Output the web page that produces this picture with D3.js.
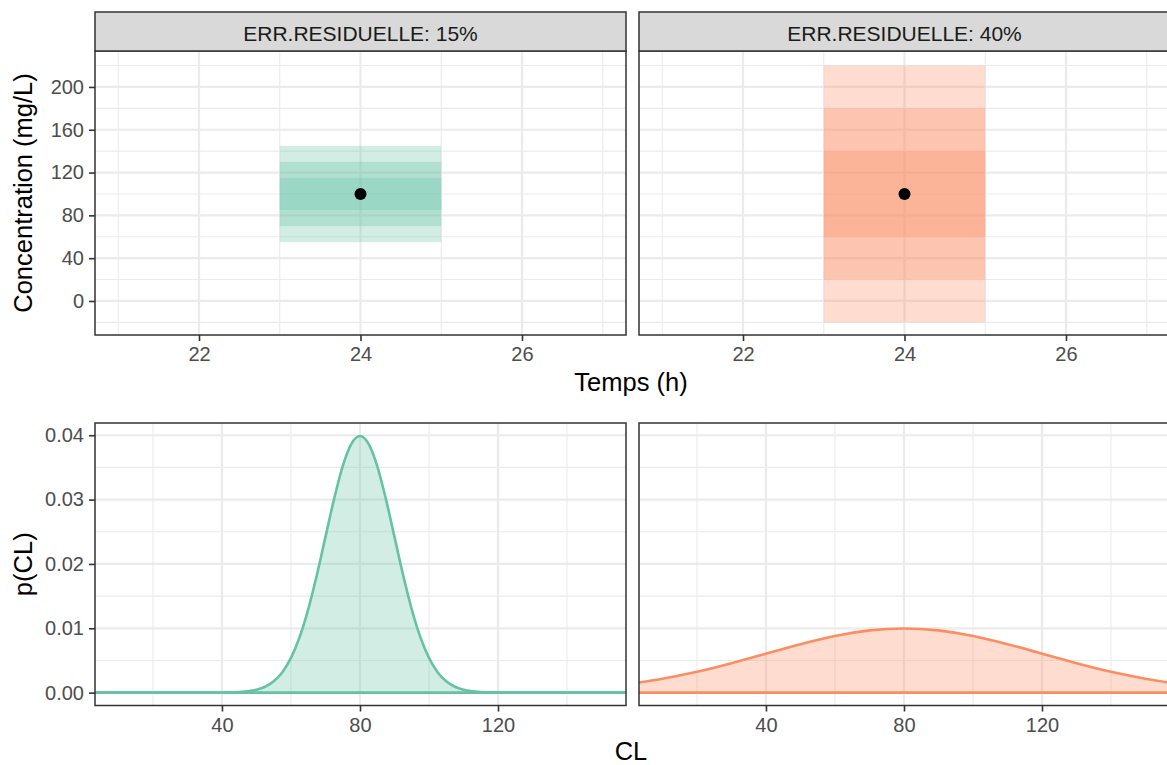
<!DOCTYPE html>
<html>
<head>
<meta charset="utf-8">
<script src="https://cdn.jsdelivr.net/npm/d3@7"></script>
<style>
  html, body { margin: 0; padding: 0; background: #fff; }
  svg { display: block; font-family: "Liberation Sans", Arial, Helvetica, sans-serif; }
</style>
</head>
<body>
<svg id="chart" width="1167" height="765"></svg>
<script>
// ---------------- data ----------------
const facetLabels = ["ERR.RESIDUELLE: 15%", "ERR.RESIDUELLE: 40%"];
const seriesColors = ["#66C2A5", "#FC8D62"];

// prediction bands (time interval and concentration limits), one per facet
const bandTimeStart = 23;
const bandTimeEnd = 25;
const bandLow15 = [55, 70, 85];
const bandHigh15 = [145, 130, 115];
const bandLow40 = [-20, 20, 60];
const bandHigh40 = [220, 180, 140];

// observation
const obsTime = [24];
const obsConc = [100];

// density of CL
const clX15 = [3, 10, 20, 30, 40, 45, 47.5, 50, 52.5, 55, 57.5, 60, 62.5, 65, 67.5, 70, 72.5, 75, 77.5, 80,
               82.5, 85, 87.5, 90, 92.5, 95, 97.5, 100, 102.5, 105, 107.5, 110, 112.5, 115, 120, 130, 140, 150, 157];
const clP15 = [0, 0, 0, 0, 0.00001, 0.00009, 0.0002, 0.00044, 0.00091, 0.00175, 0.00317, 0.0054, 0.00863, 0.01295, 0.01827, 0.0242, 0.03011, 0.03521, 0.03867, 0.03989,
               0.03867, 0.03521, 0.03011, 0.0242, 0.01827, 0.01295, 0.00863, 0.0054, 0.00317, 0.00175, 0.00091, 0.00044, 0.0002, 0.00009, 0.00001, 0, 0, 0, 0];
const clX40 = [3, 10, 20, 30, 40, 50, 60, 70, 80, 90, 100, 110, 120, 130, 140, 150, 157];
const clP40 = [0.00156, 0.00216, 0.00324, 0.00457, 0.00605, 0.00753, 0.0088, 0.00967, 0.00997,
               0.00967, 0.0088, 0.00753, 0.00605, 0.00457, 0.00324, 0.00216, 0.00156];

// ticks
const timeMajor = [22, 24, 26];
const timeMinor = [21, 23, 25, 27];
const concMajor = [0, 40, 80, 120, 160, 200];
const concMinor = [-20, 20, 60, 100, 140, 180, 220];
const clMajor = [40, 80, 120];
const clMinor = [20, 60, 100, 140];
const pMajor = [0, 0.01, 0.02, 0.03, 0.04];
const pMinor = [0.005, 0.015, 0.025, 0.035];

// ---------------- layout ----------------
const svg = d3.select("#chart");
svg.append("rect").attr("width", 1167).attr("height", 765).attr("fill", "#fff");

const cols = [[95, 626], [639, 1170]];
const topRow = [51, 335];
const botRow = [423, 705.5];
const stripTop = 12;

const tScale = cols.map(c => d3.scaleLinear().domain([20.712, 27.288]).range(c));
const cScale = d3.scaleLinear().domain([-31.8, 233.6]).range([topRow[1], topRow[0]]);
const xCL = cols.map(c => d3.scaleLinear().domain([3.2, 157.1]).range(c));
const pScale = d3.scaleLinear().domain([-0.002, 0.0419]).range([botRow[1], botRow[0]]);

const defs = svg.append("defs");
function clipFor(id, x0, x1, y0, y1) {
  defs.append("clipPath").attr("id", id)
    .append("rect").attr("x", x0).attr("y", y0).attr("width", x1 - x0).attr("height", y1 - y0);
  return "url(#" + id + ")";
}

function grid(g, xs, ys, xMaj, xMin, yMaj, yMin) {
  const [x0, x1] = xs.range();
  const [y1, y0] = ys.range();
  g.selectAll(null).data(yMin).enter().append("line")
    .attr("x1", x0).attr("x2", x1).attr("y1", d => ys(d)).attr("y2", d => ys(d))
    .attr("stroke", "#EBEBEB").attr("stroke-width", 1.1);
  g.selectAll(null).data(xMin).enter().append("line")
    .attr("y1", y0).attr("y2", y1).attr("x1", d => xs(d)).attr("x2", d => xs(d))
    .attr("stroke", "#EBEBEB").attr("stroke-width", 1.1);
  g.selectAll(null).data(yMaj).enter().append("line")
    .attr("x1", x0).attr("x2", x1).attr("y1", d => ys(d)).attr("y2", d => ys(d))
    .attr("stroke", "#EBEBEB").attr("stroke-width", 2.2);
  g.selectAll(null).data(xMaj).enter().append("line")
    .attr("y1", y0).attr("y2", y1).attr("x1", d => xs(d)).attr("x2", d => xs(d))
    .attr("stroke", "#EBEBEB").attr("stroke-width", 2.2);
}

function styleAxis(g) {
  g.select(".domain").remove();
  g.selectAll(".tick line").attr("stroke", "#333").attr("stroke-width", 1.6);
  g.selectAll(".tick text").attr("fill", "#4D4D4D").style("font-size", "20px")
    .style("font-family", "Liberation Sans, Arial, sans-serif");
}

function border(g, x0, x1, y0, y1) {
  g.append("rect").attr("x", x0).attr("y", y0).attr("width", x1 - x0).attr("height", y1 - y0)
    .attr("fill", "none").attr("stroke", "#333").attr("stroke-width", 1.5);
}

const bandLows = [bandLow15, bandLow40];
const bandHighs = [bandHigh15, bandHigh40];
const clXs = [clX15, clX40];
const clPs = [clP15, clP40];
const curveTypes = [d3.curveMonotoneX, d3.curveNatural];

for (let i = 0; i < 2; i++) {
  const [x0, x1] = cols[i];
  const col = seriesColors[i];

  // ---------- top panel ----------
  const gt = svg.append("g");
  const clipT = clipFor("ct" + i, x0, x1, topRow[0], topRow[1]);
  grid(gt, tScale[i], cScale, timeMajor, timeMinor, concMajor, concMinor);
  const dt = gt.append("g").attr("clip-path", clipT);
  const bands = bandLows[i].map((lo, k) => ({ lo, hi: bandHighs[i][k] }));
  dt.selectAll("rect.band").data(bands).enter().append("rect")
    .attr("class", "band")
    .attr("x", tScale[i](bandTimeStart))
    .attr("width", tScale[i](bandTimeEnd) - tScale[i](bandTimeStart))
    .attr("y", d => cScale(d.hi))
    .attr("height", d => cScale(d.lo) - cScale(d.hi))
    .attr("fill", col).attr("fill-opacity", 0.3);
  dt.selectAll("circle").data(obsTime.map((t, k) => ({ t, c: obsConc[k] }))).enter().append("circle")
    .attr("cx", d => tScale[i](d.t)).attr("cy", d => cScale(d.c)).attr("r", 6).attr("fill", "#000");
  border(gt, x0, x1, topRow[0], topRow[1]);

  // strip
  svg.append("rect").attr("x", x0).attr("y", stripTop).attr("width", x1 - x0).attr("height", topRow[0] - stripTop)
    .attr("fill", "#D9D9D9").attr("stroke", "#333").attr("stroke-width", 1.5);
  svg.append("text").attr("x", (x0 + x1) / 2).attr("y", 40.5)
    .attr("text-anchor", "middle").attr("fill", "#1A1A1A").style("font-size", "21px")
    .text(facetLabels[i]);

  // x axis top
  const axT = svg.append("g").attr("transform", `translate(0,${topRow[1]})`)
    .call(d3.axisBottom(tScale[i]).tickValues(timeMajor).tickSize(6).tickPadding(6).tickFormat(d3.format("d")));
  styleAxis(axT);

  // ---------- bottom panel ----------
  const gb = svg.append("g");
  const clipB = clipFor("cb" + i, x0, x1, botRow[0], botRow[1]);
  grid(gb, xCL[i], pScale, clMajor, clMinor, pMajor, pMinor);
  const db = gb.append("g").attr("clip-path", clipB);
  const pts = clXs[i].map((x, k) => ({ x, p: clPs[i][k] }));
  db.append("path").datum(pts)
    .attr("d", d3.area().x(d => xCL[i](d.x)).y0(pScale(0)).y1(d => pScale(d.p)).curve(curveTypes[i]))
    .attr("fill", col).attr("fill-opacity", 0.3);
  db.append("path").datum(pts)
    .attr("d", d3.line().x(d => xCL[i](d.x)).y(d => pScale(d.p)).curve(curveTypes[i]))
    .attr("fill", "none").attr("stroke", col).attr("stroke-width", 2.6);
  db.append("line").attr("x1", x0).attr("x2", x1).attr("y1", pScale(0)).attr("y2", pScale(0))
    .attr("stroke", col).attr("stroke-width", 2.6);
  border(gb, x0, x1, botRow[0], botRow[1]);

  const axB = svg.append("g").attr("transform", `translate(0,${botRow[1]})`)
    .call(d3.axisBottom(xCL[i]).tickValues(clMajor).tickSize(6).tickPadding(6).tickFormat(d3.format("d")));
  styleAxis(axB);
}

// y axes (left column only)
const ayT = svg.append("g").attr("transform", `translate(${cols[0][0]},0)`)
  .call(d3.axisLeft(cScale).tickValues(concMajor).tickSize(6).tickPadding(5).tickFormat(d3.format("d")));
styleAxis(ayT);
const ayB = svg.append("g").attr("transform", `translate(${cols[0][0]},0)`)
  .call(d3.axisLeft(pScale).tickValues(pMajor).tickSize(6).tickPadding(5).tickFormat(d3.format(".2f")));
styleAxis(ayB);

// axis titles
const plotCenterX = (cols[0][0] + 1167) / 2;
svg.append("text").attr("x", plotCenterX).attr("y", 391).attr("text-anchor", "middle")
  .style("font-size", "25.5px").attr("fill", "#000").text("Temps (h)");
svg.append("text").attr("x", plotCenterX).attr("y", 760).attr("text-anchor", "middle")
  .style("font-size", "25.5px").attr("fill", "#000").text("CL");
svg.append("text").attr("transform", `translate(32,${(topRow[0] + topRow[1]) / 2}) rotate(-90)`)
  .attr("text-anchor", "middle").style("font-size", "25.5px").attr("fill", "#000").text("Concentration (mg/L)");
svg.append("text").attr("transform", `translate(32,${(botRow[0] + botRow[1]) / 2}) rotate(-90)`)
  .attr("text-anchor", "middle").style("font-size", "25.5px").attr("fill", "#000").text("p(CL)");
</script>
</body>
</html>
